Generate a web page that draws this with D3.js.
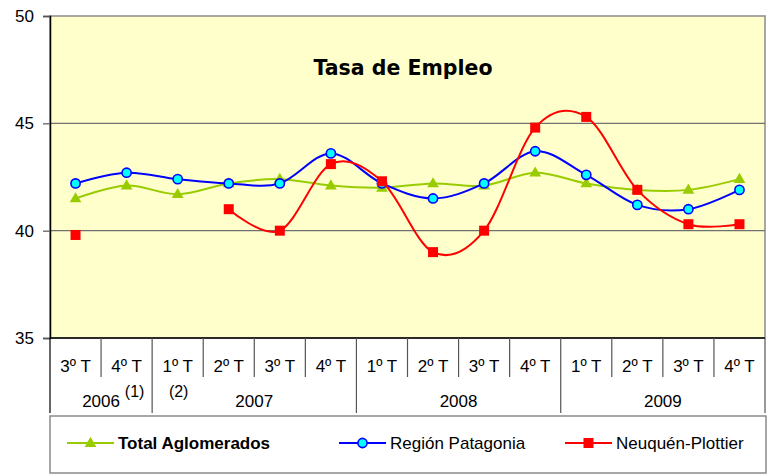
<!DOCTYPE html>
<html>
<head>
<meta charset="utf-8">
<script src="https://cdn.jsdelivr.net/npm/d3@7"></script>
<style>
  html, body { margin: 0; padding: 0; background: #fff; }
  svg { display: block; }
</style>
</head>
<body>
<svg id="chart" width="771" height="474"></svg>
<script>
// ---- Data ----
const quarters = ["3º T","4º T","1º T","2º T","3º T","4º T","1º T","2º T","3º T","4º T","1º T","2º T","3º T","4º T"];
const years = ["2006","2007","2008","2009"];
const yearStart = [0, 2, 6, 10];
const yearEnd = [2, 6, 10, 14];
const yTicks = [35, 40, 45, 50];
const totalAglomerados = [41.5, 42.1, 41.7, 42.2, 42.4, 42.1, 42.0, 42.2, 42.1, 42.7, 42.2, 41.9, 41.9, 42.4];
const regionPatagonia = [42.2, 42.7, 42.4, 42.2, 42.2, 43.6, 42.2, 41.5, 42.2, 43.7, 42.6, 41.2, 41.0, 41.9];
const neuquenPlottier = [39.8, null, null, 41.0, 40.0, 43.1, 42.3, 39.0, 40.0, 44.8, 45.3, 41.9, 40.3, 40.3];
const seriesNames = ["Total Aglomerados", "Región Patagonia", "Neuquén-Plottier"];
const notes = ["(1)", "(2)"];

// ---- Layout ----
const L = 50, R = 765, T = 16, B = 338;
const svg = d3.select("#chart");
const font = "'Liberation Sans', Arial, sans-serif";

svg.append("rect").attr("width", 771).attr("height", 474).attr("fill", "#fff");

const x = d3.scaleBand().domain(d3.range(quarters.length)).range([L, R]).padding(0);
const bw = x.bandwidth();
const cx = i => x(i) + bw / 2;
const y = d3.scaleLinear().domain([35, 50]).range([B, T]);

// plot background
svg.append("rect").attr("x", L).attr("y", T).attr("width", R - L).attr("height", B - T)
  .attr("fill", "#FFFFCC").attr("stroke", "#8a8a8a").attr("stroke-width", 1.5);

// gridlines
svg.append("g").selectAll("line").data(yTicks.filter(v => v > 35 && v < 50)).join("line")
  .attr("x1", L).attr("x2", R).attr("y1", d => y(d)).attr("y2", d => y(d))
  .attr("stroke", "#707070").attr("stroke-width", 1.3);

// y axis
const yAxis = d3.axisLeft(y).tickValues(yTicks).tickSize(7).tickPadding(9).tickFormat(d3.format("d"));
const gy = svg.append("g").attr("transform", `translate(${L},0)`).call(yAxis);
gy.select(".domain").attr("stroke", "#000").attr("stroke-width", 1.5);
gy.selectAll(".tick line").attr("stroke", "#555").attr("stroke-width", 1.2);
gy.selectAll(".tick text").attr("font-family", font).attr("font-size", 17).attr("fill", "#000");

// bottom axis line
svg.append("line").attr("x1", L).attr("x2", R).attr("y1", B).attr("y2", B)
  .attr("stroke", "#000").attr("stroke-width", 1.5);

// category separators
const yearBounds = new Set([...yearStart, 14]);
const gx = svg.append("g");
gx.selectAll("line.sep").data(d3.range(quarters.length + 1)).join("line")
  .attr("class", "sep")
  .attr("x1", i => i < quarters.length ? x(i) : R)
  .attr("x2", i => i < quarters.length ? x(i) : R)
  .attr("y1", B).attr("y2", i => yearBounds.has(i) ? 413 : 377)
  .attr("stroke", i => (i === 0) ? "#000" : "#555").attr("stroke-width", 1.2);
gx.selectAll("text.q").data(quarters).join("text")
  .attr("class", "q")
  .attr("x", (d, i) => cx(i)).attr("y", 372)
  .attr("text-anchor", "middle").attr("font-family", font).attr("font-size", 17)
  .text(d => d);
gx.selectAll("text.yr").data(years).join("text")
  .attr("class", "yr")
  .attr("x", (d, i) => (x(yearStart[i]) + (yearEnd[i] < 14 ? x(yearEnd[i]) : R)) / 2)
  .attr("y", 407)
  .attr("text-anchor", "middle").attr("font-family", font).attr("font-size", 17)
  .text(d => d);
// notes (1), (2)
gx.append("text").attr("x", cx(1) + 8).attr("y", 397).attr("text-anchor", "middle")
  .attr("font-family", font).attr("font-size", 16).text(notes[0]);
gx.append("text").attr("x", cx(2) + 1).attr("y", 397).attr("text-anchor", "middle")
  .attr("font-family", font).attr("font-size", 16).text(notes[1]);

// title
svg.append("text").attr("x", 403).attr("y", 75).attr("text-anchor", "middle")
  .attr("font-family", "'DejaVu Sans', Verdana, sans-serif").attr("font-weight", "bold")
  .attr("font-size", 20.5).text("Tasa de Empleo");

// ---- series ----
const line = d3.line()
  .defined(d => d.v != null)
  .x(d => cx(d.i)).y(d => y(d.v))
  .curve(d3.curveCardinal.tension(0));

function toPts(arr) { return arr.map((v, i) => ({ i, v })); }

const colors = ["#99CC00", "#0000FF", "#FF0000"];
const allSeries = [totalAglomerados, regionPatagonia, neuquenPlottier];

const tri = d3.symbol().type(d3.symbolTriangle).size(60);

function drawMarker(g, k, px, py) {
  if (k === 0) {
    g.append("path").attr("d", tri()).attr("transform", `translate(${px},${py + 0.5})`)
      .attr("fill", colors[0]);
  } else if (k === 1) {
    g.append("circle").attr("cx", px).attr("cy", py).attr("r", 4.6)
      .attr("fill", "#00FFFF").attr("stroke", colors[1]).attr("stroke-width", 1.6);
  } else {
    g.append("rect").attr("x", px - 5).attr("y", py - 5).attr("width", 10).attr("height", 10)
      .attr("fill", colors[2]);
  }
}

allSeries.forEach((arr, k) => {
  const g = svg.append("g");
  g.append("path").datum(toPts(arr)).attr("d", line)
    .attr("fill", "none").attr("stroke", colors[k]).attr("stroke-width", 2);
  toPts(arr).filter(d => d.v != null).forEach(d => drawMarker(g, k, cx(d.i), y(d.v)));
});

// ---- legend ----
svg.append("rect").attr("x", 50).attr("y", 416).attr("width", 716).attr("height", 57)
  .attr("fill", "#fff").attr("stroke", "#8a8a8a").attr("stroke-width", 1.5);
const legX = [67, 339, 565];
const legY = 443;
seriesNames.forEach((name, k) => {
  const g = svg.append("g");
  g.append("line").attr("x1", legX[k]).attr("x2", legX[k] + 47).attr("y1", legY).attr("y2", legY)
    .attr("stroke", colors[k]).attr("stroke-width", 2);
  drawMarker(g, k, legX[k] + 23.5, legY);
  g.append("text").attr("x", legX[k] + 51).attr("y", legY + 6)
    .attr("font-family", font).attr("font-size", 17)
    .attr("font-weight", k === 0 ? "bold" : "normal").text(name);
});
</script>
</body>
</html>
